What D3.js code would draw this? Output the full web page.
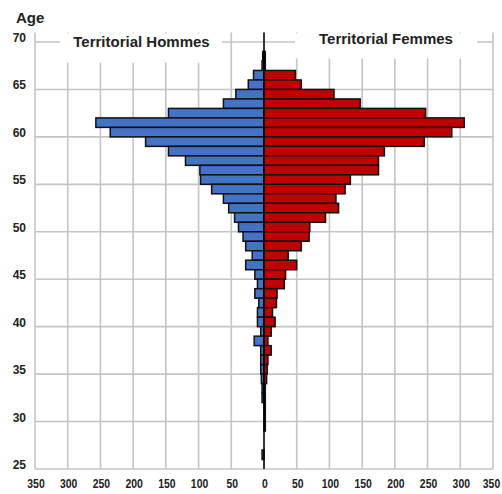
<!DOCTYPE html>
<html><head><meta charset="utf-8">
<script src="https://cdn.jsdelivr.net/npm/d3@7"></script>
<style>
body{margin:0;background:#fff;}
text{font-family:"Liberation Sans",Arial,sans-serif;font-weight:bold;fill:#222;}
</style></head>
<body><svg id="c" width="502" height="494"></svg>
<script>
const ages =    [68,67,66,65,64,63,62,61,60,59,58,57,56,55,54,53,52,51,50,49,48,47,46,45,44,43,42,41,40,39,38,37,36,35,34,33,32,31,30,29,28,27,26,25];
const hommes =  [2,3,16,24,43,62,146,257,235,181,146,120,98,97,80,62,54,45,39,32,28,18,28,14,10,14,8,10,10,5,15,5,5,5,4,3,3,0,0,0,0,0,3,0];
const femmes =  [2,2,48,57,107,147,247,306,287,245,184,175,175,132,124,110,114,94,70,69,57,37,50,33,31,20,19,13,17,11,6,11,6,5,4,2,2,2,2,2,0,0,0,0];
const xTicks = [-350,-300,-250,-200,-150,-100,-50,0,50,100,150,200,250,300,350];
const yTicks = [25,30,35,40,45,50,55,60,65,70];
const seriesNames = ["Territorial Hommes","Territorial Femmes"];

const svg = d3.select("#c");
const x = d3.scaleLinear().domain([-350,350]).range([35,493]);
const y = d3.scaleLinear().domain([25,71]).range([469,32.5]);
const grid = "#c4c4c4";

// grid
svg.append("g").selectAll("line.v").data(xTicks).join("line")
  .attr("x1",d=>x(d)).attr("x2",d=>x(d)).attr("y1",y(71)).attr("y2",y(25))
  .attr("stroke",grid).attr("stroke-width",1.6);
svg.append("g").selectAll("line.h").data(yTicks).join("line")
  .attr("x1",x(-350)).attr("x2",x(350)).attr("y1",d=>y(d)).attr("y2",d=>y(d))
  .attr("stroke",grid).attr("stroke-width",1.6);

// title boxes
svg.append("rect").attr("x",60).attr("y",y(71)+1).attr("width",162).attr("height",29).attr("fill","#fff");
svg.append("rect").attr("x",295).attr("y",y(71)+1).attr("width",182).attr("height",25).attr("fill","#fff");
svg.append("text").attr("x",141.5).attr("y",47).attr("text-anchor","middle").attr("font-size",15).text(seriesNames[0]);
svg.append("text").attr("x",386).attr("y",44).attr("text-anchor","middle").attr("font-size",15).text(seriesNames[1]);

// bars
const data = ages.map((a,i)=>({a,h:hommes[i],f:femmes[i]}));
svg.append("g").selectAll("rect").data(data.filter(d=>d.h>0)).join("rect")
  .attr("x",d=>x(-d.h)).attr("width",d=>x(0)-x(-d.h))
  .attr("y",d=>y(d.a+1)).attr("height",d=>y(d.a)-y(d.a+1))
  .attr("fill","#4472c4").attr("stroke","#111").attr("stroke-width",1.5);
svg.append("g").selectAll("rect").data(data.filter(d=>d.f>0)).join("rect")
  .attr("x",x(0)).attr("width",d=>x(d.f)-x(0))
  .attr("y",d=>y(d.a+1)).attr("height",d=>y(d.a)-y(d.a+1))
  .attr("fill","#c00000").attr("stroke","#111").attr("stroke-width",1.5);

// center line
svg.append("line").attr("x1",x(0)).attr("x2",x(0)).attr("y1",y(71)).attr("y2",y(25))
  .attr("stroke","#000").attr("stroke-width",1.5);

// axis labels
svg.append("g").selectAll("text").data(yTicks).join("text")
  .attr("x",26).attr("y",d=>y(d)).attr("text-anchor","end").attr("font-size",12).text(d=>d);
svg.append("g").selectAll("text").data(xTicks).join("text")
  .attr("x",d=>Math.min(x(d)+1,491.5)).attr("y",488).attr("text-anchor","middle").attr("font-size",12)
  .attr("textLength",d=>String(Math.abs(d)).length*5.8).attr("lengthAdjust","spacingAndGlyphs")
  .text(d=>Math.abs(d));
svg.append("text").attr("x",16).attr("y",23).attr("font-size",15).text("Age");
</script></body></html>
